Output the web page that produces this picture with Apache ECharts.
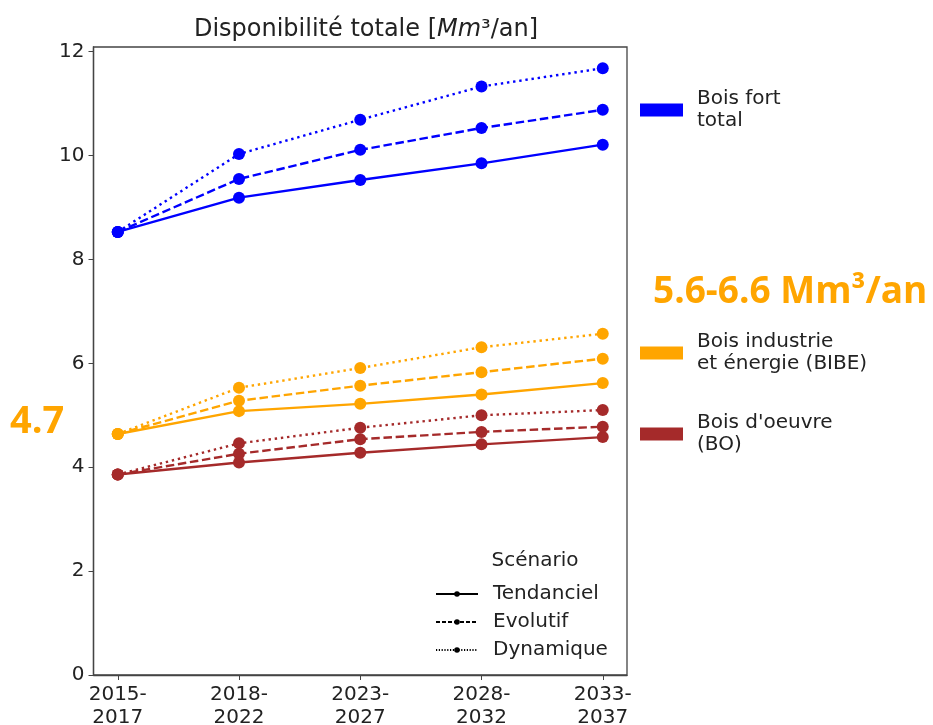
<!DOCTYPE html>
<html><head><meta charset="utf-8">
<script src="https://cdn.jsdelivr.net/npm/echarts@6/dist/echarts.min.js"></script>
<style>html,body{margin:0;padding:0;background:#fff}#c{width:933px;height:725px}</style>
</head><body><div id="c"></div>
<script>
const periods = ['2015-\n2017','2018-\n2022','2023-\n2027','2028-\n2032','2033-\n2037'];
const yTicks = [0,2,4,6,8,10,12];
// Bois fort total
const bft_tend = [8.53, 9.19, 9.53, 9.85, 10.21];
const bft_evol = [8.53, 9.55, 10.11, 10.53, 10.88];
const bft_dyn  = [8.53, 10.03, 10.69, 11.33, 11.68];
// Bois industrie et énergie (BIBE)
const bibe_tend = [4.64, 5.08, 5.22, 5.40, 5.62];
const bibe_evol = [4.64, 5.28, 5.57, 5.83, 6.09];
const bibe_dyn  = [4.64, 5.53, 5.91, 6.31, 6.57];
// Bois d'oeuvre (BO)
const bo_tend = [3.86, 4.09, 4.28, 4.44, 4.58];
const bo_evol = [3.86, 4.26, 4.54, 4.68, 4.78];
const bo_dyn  = [3.86, 4.46, 4.76, 5.00, 5.10];

const groups = [
  {name:'Bois fort\ntotal', color:'#0000ff', data:[bft_tend, bft_evol, bft_dyn]},
  {name:'Bois industrie\net énergie (BIBE)', color:'#ffa500', data:[bibe_tend, bibe_evol, bibe_dyn]},
  {name:"Bois d'oeuvre\n(BO)", color:'#a52a2a', data:[bo_tend, bo_evol, bo_dyn]}
];
const scenarios = ['Tendanciel','Evolutif','Dynamique'];
const dashTypes = ['solid',[8.5,3.7],[2.4,3.8]];

const series = [];
groups.forEach(g => {
  g.data.forEach((arr, si) => {
    series.push({
      type:'line', name: g.name + '_' + si,
      data: arr.map((v,i)=>[i,v]),
      color: g.color,
      lineStyle:{color:g.color, width:2.4, type:dashTypes[si]},
      itemStyle:{color:g.color},
      symbol:'circle', symbolSize:12, showSymbol:true,
      z: 3, silent:true, animation:false
    });
  });
  series.push({type:'line', name:g.name, data:[], color:g.color, itemStyle:{color:g.color}, lineStyle:{color:g.color}});
});
scenarios.forEach((s, si) => {
  series.push({type:'line', name:s, data:[], color:'#000', symbol:'circle', symbolSize:6,
    itemStyle:{color:'#000'}, lineStyle:{color:'#000', width:1.2, type: si===0?'solid':(si===1?[4,2]:[1.2,1.6])}});
});

const font = 'DejaVu Sans';
const legText = {fontFamily:font, fontSize:20, color:'#222', lineHeight:22, padding:[0,0,0,9]};
const chart = echarts.init(document.getElementById('c'));
chart.setOption({
  animation:false,
  backgroundColor:'#fff',
  title:[
    {text:'Disponibilité totale [{i|Mm}³/an]', left:361, textAlign:'center', top:13,
     textStyle:{fontFamily:font, fontSize:24, fontWeight:'normal', color:'#222',
       rich:{i:{fontFamily:font, fontSize:24, fontStyle:'italic', color:'#222'}}}},
    {text:'5.6-6.6 Mm³/an', left:648, top:269,
     textStyle:{fontFamily:'Open Sans', fontSize:37, fontWeight:'bold', color:'#ffa500'}},
    {text:'4.7', left:5, top:398,
     textStyle:{fontFamily:'Open Sans', fontSize:38, fontWeight:'bold', color:'#ffa500'}},
    {text:'Scénario', left:530, textAlign:'center', top:546,
     textStyle:{fontFamily:font, fontSize:20, fontWeight:'normal', color:'#222'}}
  ],
  grid:{left:93.5, right:306, top:47, bottom:50, show:true, borderColor:'#444', borderWidth:1.3,
        backgroundColor:'transparent', outerBoundsMode:'none', containLabel:false},
  xAxis:{type:'value', min:-0.2, max:4.2,
    axisLine:{show:true, onZero:false, lineStyle:{color:'#444', width:1.3}},
    axisTick:{show:true, length:5, lineStyle:{color:'#444'}, customValues:[0,1,2,3,4]},
    axisLabel:{customValues:[0,1,2,3,4], formatter:v=>periods[Math.round(v)], fontFamily:font, fontSize:20, color:'#222', lineHeight:23, margin:8},
    splitLine:{show:false}},
  yAxis:{type:'value', min:0, max:12.09,
    axisLine:{show:true, onZero:false, lineStyle:{color:'#444', width:1.3}},
    axisTick:{show:true, length:5, lineStyle:{color:'#444'}, customValues:yTicks},
    axisLabel:{customValues:yTicks, fontFamily:font, fontSize:20, color:'#222', margin:9},
    splitLine:{show:false}},
  legend:[
    {data:[groups[0].name], left:635, top:83, orient:'vertical', icon:'rect', itemWidth:43, itemHeight:13,
     textStyle:legText, selectedMode:false},
    {data:[groups[1].name], left:635, top:326, orient:'vertical', icon:'rect', itemWidth:43, itemHeight:13,
     textStyle:legText, selectedMode:false},
    {data:[groups[2].name], left:635, top:407, orient:'vertical', icon:'rect', itemWidth:43, itemHeight:13,
     textStyle:legText, selectedMode:false},
    {data:scenarios, left:430, top:578, orient:'vertical', itemWidth:42, itemHeight:7, itemGap:6,
     textStyle:{fontFamily:font, fontSize:20, color:'#222', lineHeight:22, padding:[0,0,0,10]}, selectedMode:false}
  ],
  series: series
});
</script></body></html>
